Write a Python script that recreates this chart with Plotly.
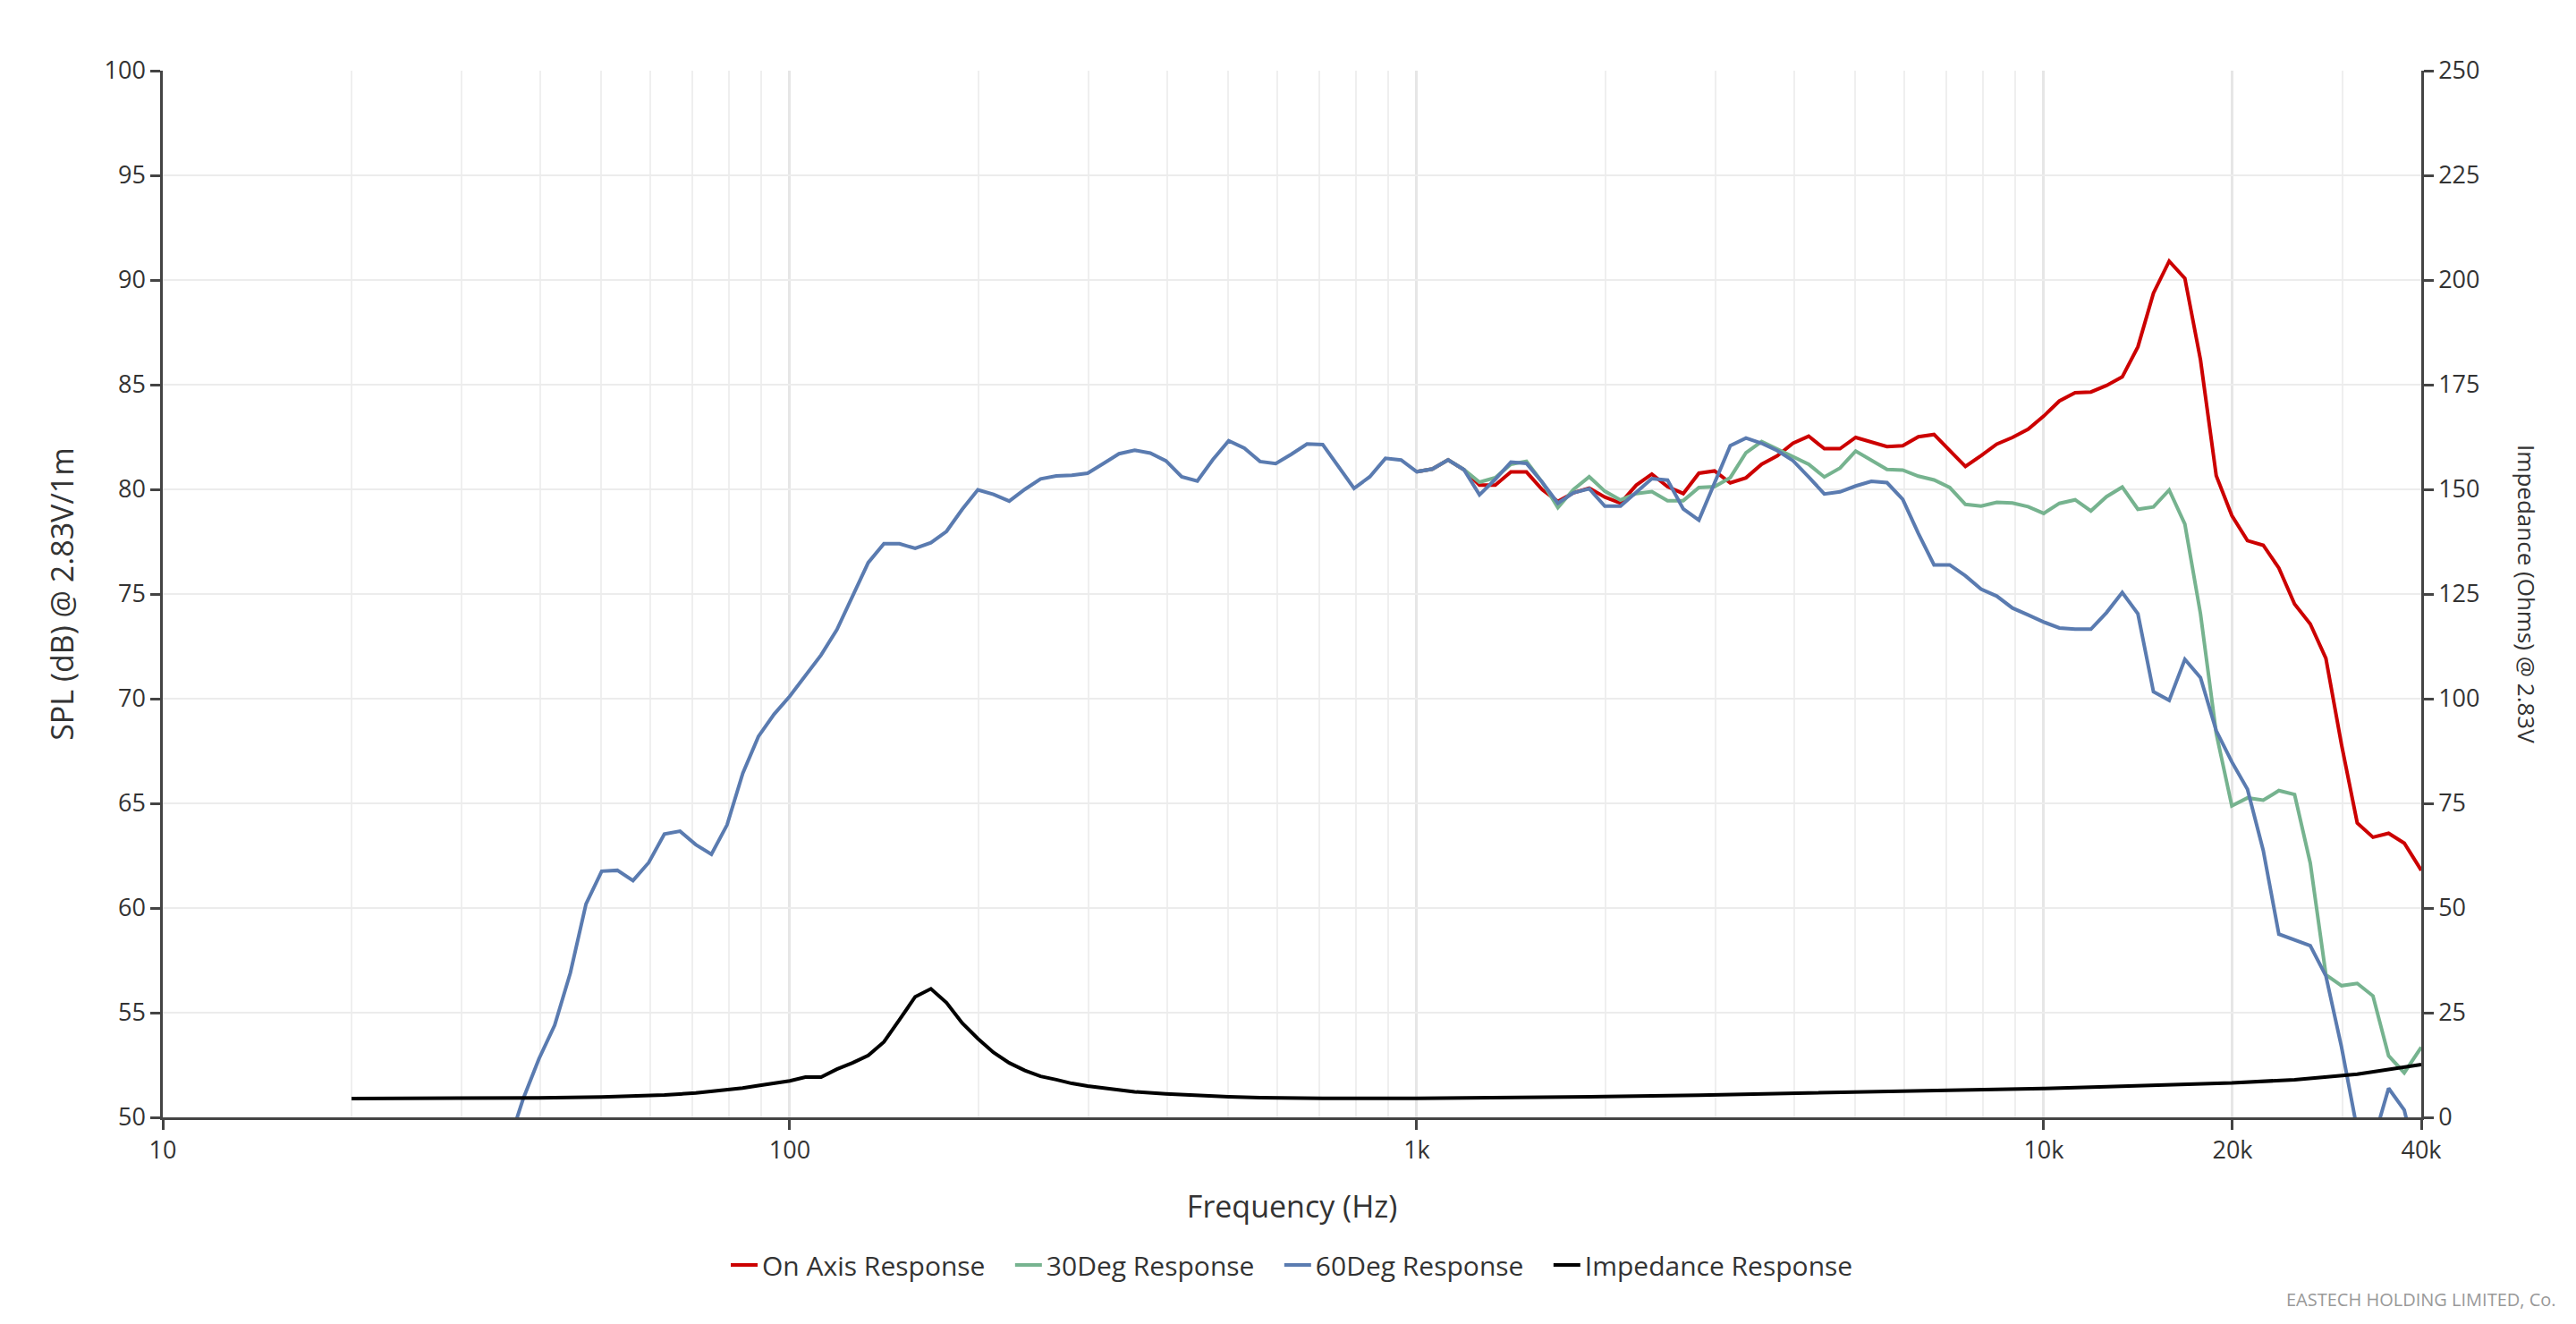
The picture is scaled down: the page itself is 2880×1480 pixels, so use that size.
import plotly.graph_objects as go

# ---------------- data ----------------
freq_60 = [35.48, 37.58, 39.81, 42.17, 44.67, 47.32, 50.12, 53.09, 56.23, 59.57,
           63.1, 66.83, 70.79, 74.99, 79.43, 84.14, 89.13, 94.41, 100, 105.9,
           112.2, 118.9, 125.9, 133.4, 141.3, 149.6, 158.5, 167.9, 177.8, 188.4,
           199.5, 211.3, 223.9, 237.1, 251.2, 266.1, 281.8, 298.5, 316.2, 335.0,
           354.8, 375.8, 398.1, 421.7, 446.7, 473.2, 501.2, 530.9, 562.3, 595.7,
           631.0, 668.3, 707.9, 749.9, 794.3, 841.4, 891.3, 944.1, 1000, 1059,
           1122, 1189, 1259, 1334, 1413, 1496, 1585, 1679, 1778, 1884,
           1995, 2113, 2239, 2371, 2512, 2661, 2818, 2985, 3162, 3350,
           3548, 3758, 3981, 4217, 4467, 4732, 5012, 5309, 5623, 5957,
           6310, 6683, 7079, 7499, 7943, 8414, 8913, 9441, 10000, 10590,
           11220, 11890, 12590, 13340, 14130, 14960, 15850, 16790, 17780, 18840,
           19950, 21130, 22390, 23710, 25120, 26610, 28180, 29850, 31620, 33500,
           35480, 37580, 40000]

spl_60 = [48.6, 50.9, 52.8, 54.4, 56.9, 60.2, 61.76, 61.8, 61.31, 62.17,
          63.53, 63.67, 63.03, 62.57, 63.97, 66.43, 68.2, 69.26, 70.12, 71.1,
          72.09, 73.3, 74.9, 76.5, 77.4, 77.4, 77.18, 77.45, 77.99, 79.05,
          79.98, 79.76, 79.44, 80.0, 80.5, 80.64, 80.67, 80.77, 81.23, 81.7,
          81.87, 81.73, 81.36, 80.6, 80.4, 81.43, 82.32, 81.97, 81.33, 81.23,
          81.68, 82.17, 82.14, 81.11, 80.05, 80.6, 81.48, 81.4, 80.84, 80.97,
          81.41, 80.94, 79.74, 80.48, 81.3, 81.24, 80.34, 79.34, 79.84, 80.03,
          79.2, 79.2, 79.87, 80.51, 80.44, 79.06, 78.53, 80.34, 82.08, 82.45,
          82.2, 81.85, 81.37, 80.59, 79.78, 79.88, 80.16, 80.38, 80.32, 79.52,
          77.89, 76.39, 76.39, 75.87, 75.23, 74.9, 74.33, 74.0, 73.66, 73.38,
          73.32, 73.32, 74.11, 75.07, 74.06, 70.33, 69.92, 71.88, 71.01, 68.47,
          66.98, 65.67, 62.75, 58.75, 58.47, 58.2, 56.76, 53.35, 49.4, 48.8,
          51.39, 50.35, 47.0]

freq_hf = [1000, 1059, 1122, 1189, 1259, 1334, 1413, 1496, 1585, 1679,
           1778, 1884, 1995, 2113, 2239, 2371, 2512, 2661, 2818, 2985,
           3162, 3350, 3548, 3758, 3981, 4217, 4467, 4732, 5012, 5309,
           5623, 5957, 6310, 6683, 7079, 7499, 7943, 8414, 8913, 9441,
           10000, 10590, 11220, 11890, 12590, 13340, 14130, 14960, 15850, 16790,
           17780, 18840, 19950, 21130, 22390, 23710, 25120, 26610, 28180, 29850,
           31620, 33500, 35480, 37580, 40000]

spl_on_axis = [80.84, 80.97, 81.41, 80.94, 80.2, 80.2, 80.83, 80.83, 79.99, 79.42,
               79.84, 80.06, 79.63, 79.34, 80.2, 80.73, 80.13, 79.8, 80.77, 80.88,
               80.31, 80.55, 81.2, 81.6, 82.2, 82.54, 81.94, 81.94, 82.48, 82.27,
               82.04, 82.08, 82.51, 82.62, 81.87, 81.09, 81.61, 82.16, 82.48, 82.87,
               83.5, 84.22, 84.62, 84.65, 84.96, 85.37, 86.81, 89.37, 90.9, 90.08,
               86.19, 80.65, 78.75, 77.55, 77.33, 76.24, 74.52, 73.57, 71.93, 67.79,
               64.06, 63.38, 63.57, 63.1, 61.8]

spl_30 = [80.84, 80.97, 81.41, 80.94, 80.34, 80.56, 81.2, 81.34, 80.34, 79.13,
          79.99, 80.6, 79.91, 79.49, 79.8, 79.89, 79.46, 79.46, 80.09, 80.13,
          80.56, 81.75, 82.28, 81.92, 81.59, 81.2, 80.59, 81.02, 81.83, 81.4,
          80.95, 80.92, 80.63, 80.45, 80.09, 79.28, 79.2, 79.38, 79.35, 79.17,
          78.85, 79.33, 79.5, 78.97, 79.65, 80.11, 79.05, 79.16, 79.97, 78.34,
          74.06, 68.34, 64.88, 65.26, 65.15, 65.61, 65.42, 62.15, 56.81, 56.29,
          56.4, 55.8, 52.94, 52.13, 53.35]

freq_imp = [20, 25, 31.6, 39.8, 50.1, 56.2, 63.1, 70.8, 79.4, 84.1,
            89.1, 94.4, 100, 105.9, 112.2, 118.9, 125.9, 133.4, 141.3, 149.6,
            158.5, 167.9, 177.8, 188.4, 199.5, 211.3, 223.9, 237.1, 251.2, 266.1,
            281.8, 298.5, 316.2, 354.8, 398.1, 446.7, 501.2, 562.3, 631, 707.9,
            1000, 1413, 1995, 2818, 3981, 5623, 7943, 10000, 12590, 15850,
            19950, 25120, 31620, 40000]

impedance = [4.5, 4.52, 4.55, 4.65, 4.85, 5.05, 5.35, 5.8, 6.5, 7.0,
             7.6, 8.2, 8.7, 9.6, 9.6, 11.5, 13.0, 14.8, 18.0, 23.3,
             28.8, 30.7, 27.4, 22.5, 18.8, 15.5, 13.0, 11.2, 9.8, 9.0,
             8.1, 7.5, 7.0, 6.1, 5.6, 5.15, 4.9, 4.7, 4.6, 4.55,
             4.55, 4.7, 4.95, 5.3, 5.7, 6.1, 6.5, 6.9, 7.3, 7.7,
             8.2, 9.0, 10.3, 12.6]

x_tickvals = [10, 100, 1000, 10000, 20000, 40000]
x_ticktext = ["10", "100", "1k", "10k", "20k", "40k"]
x_minor = [20, 30, 40, 50, 60, 70, 80, 90,
           200, 300, 400, 500, 600, 700, 800, 900,
           2000, 3000, 4000, 5000, 6000, 7000, 8000, 9000, 30000]

series_names = ["On Axis Response", "30Deg Response", "60Deg Response", "Impedance Response"]

# ---------------- figure ----------------
FONT = "Open Sans"
TXT = "#333333"
AX = "#444444"
PAD = "\u00a0\u00a0\u00a0"
LW = 4

fig = go.Figure()
fig.add_trace(go.Scatter(x=freq_hf, y=spl_on_axis, name=series_names[0] + PAD, mode="lines",
                         line=dict(color="#cc0000", width=LW)))
fig.add_trace(go.Scatter(x=freq_hf, y=spl_30, name=series_names[1] + PAD, mode="lines",
                         line=dict(color="#76b38f", width=LW)))
fig.add_trace(go.Scatter(x=freq_60, y=spl_60, name=series_names[2] + PAD, mode="lines",
                         line=dict(color="#5a7bb0", width=LW)))
fig.add_trace(go.Scatter(x=freq_imp, y=impedance, name=series_names[3], mode="lines",
                         line=dict(color="#000000", width=LW), yaxis="y2"))

fig.update_layout(
    width=2880, height=1480,
    paper_bgcolor="white", plot_bgcolor="white",
    margin=dict(l=182, r=173, t=79, b=231),
    font=dict(family=FONT, color=TXT, size=27),
    showlegend=True,
    legend=dict(orientation="h", x=0.5, xanchor="center", y=-0.141, yanchor="middle",
                font=dict(size=30, color=TXT), itemwidth=30, tracegroupgap=0),
    xaxis=dict(type="log", range=[1, 4.60206], tickmode="array",
               tickvals=x_tickvals, ticktext=x_ticktext,
               ticks="outside", ticklen=11, tickwidth=3, tickcolor=AX,
               showline=True, linecolor=AX, linewidth=2.5,
               showgrid=True, gridcolor="#e6e6e6", gridwidth=3,
               minor=dict(tickmode="array", tickvals=x_minor, showgrid=True,
                          gridcolor="#efefef", gridwidth=1.5, ticks=""),
               zeroline=False, tickfont=dict(size=27, color=TXT),
               title=dict(text="Frequency (Hz)", font=dict(size=34, color=TXT), standoff=36)),
    yaxis=dict(range=[50, 100], tick0=50, dtick=5,
               ticks="outside", ticklen=11, tickwidth=3, tickcolor=AX,
               showline=True, linecolor=AX, linewidth=2.5,
               showgrid=True, gridcolor="#ececec", gridwidth=1.5,
               zeroline=False, tickfont=dict(size=27, color=TXT),
               title=dict(text="SPL (dB) @ 2.83V/1m", font=dict(size=34, color=TXT), standoff=24)),
    yaxis2=dict(range=[0, 250], tick0=0, dtick=25, overlaying="y", side="right",
                ticks="outside", ticklen=11, tickwidth=3, tickcolor=AX,
                showline=True, linecolor=AX, linewidth=2.5,
                showgrid=False, zeroline=False, tickfont=dict(size=27, color=TXT)),
    annotations=[
        dict(text="Impedance (Ohms) @ 2.83V", xref="paper", yref="paper",
             x=1.0467, y=0.5, textangle=90, showarrow=False,
             xanchor="center", yanchor="middle", font=dict(size=26, color=TXT)),
        dict(text="EASTECH HOLDING LIMITED, Co.", xref="paper", yref="paper",
             x=1.0606, y=-0.174, showarrow=False, xanchor="right", yanchor="middle",
             font=dict(size=20, color="#999999")),
    ],
)

fig.write_html("out.html")
